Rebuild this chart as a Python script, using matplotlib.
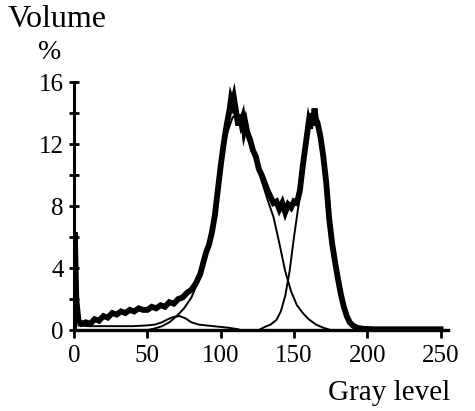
import numpy as np
from matplotlib import pyplot as plt

plt.rcParams['font.family'] = ['Liberation Serif', 'DejaVu Serif']

# total histogram (thick line)
gray_total = [0, 0.5, 1.5, 3, 5, 8, 11, 14, 17, 20, 23, 26, 29, 32, 35, 38, 41, 44, 47, 50,
              53, 56, 59, 62, 65, 68, 71, 74, 77, 80, 83, 86, 88, 90, 92, 94, 96, 98, 100,
              102, 104, 106, 107, 108, 109, 110, 111, 112, 113, 114, 115, 116, 117, 118,
              120, 122, 124, 126, 128, 130, 132, 134, 136, 138, 140, 142, 144, 146, 148,
              150, 152, 154, 156, 158, 160, 161, 162, 163, 164, 165, 166, 168, 170, 172,
              174, 176, 178, 180, 182, 184, 186, 188, 190, 193, 197, 205, 220, 240, 250]
vol_total = [0, 6.3, 2.0, 0.6, 0.4, 0.5, 0.4, 0.7, 0.6, 0.9, 0.8, 1.1, 1.0, 1.2, 1.1, 1.3, 1.2,
             1.4, 1.3, 1.3, 1.5, 1.4, 1.6, 1.5, 1.8, 1.7, 2.0, 2.1, 2.4, 2.6, 3.0, 3.6, 4.3,
             5.0, 5.5, 6.3, 7.4, 9.0, 10.6, 12.0, 13.2, 14.2, 14.9, 14.6, 15.0, 14.4, 13.8,
             13.2, 13.9, 13.4, 13.7, 12.9, 13.3, 12.8, 12.3, 11.6, 11.2, 10.4, 10.0, 9.5,
             9.0, 8.6, 8.2, 8.3, 7.8, 8.2, 7.6, 8.1, 7.9, 8.3, 8.2, 9.0, 10.6, 12.0, 13.4,
             13.0, 14.0, 13.2, 14.3, 13.6, 13.4, 12.5, 11.2, 9.5, 7.2, 5.6, 4.4, 3.3, 2.3,
             1.5, 0.9, 0.5, 0.3, 0.15, 0.08, 0.05, 0.05, 0.05, 0.05]

# low gray component (thin)
gray_low = [3, 10, 20, 30, 40, 50, 55, 60, 64, 68, 72, 76, 80, 85, 90, 95, 100, 105, 112]
vol_low = [0.3, 0.25, 0.25, 0.25, 0.25, 0.3, 0.35, 0.5, 0.7, 0.85, 0.9, 0.75, 0.5, 0.35,
           0.3, 0.25, 0.2, 0.15, 0.05]

# first main component (thin)
gray_c1 = [50, 55, 60, 65, 70, 75, 80, 85, 90, 95, 100, 104, 108, 110, 112, 116, 120, 124,
           128, 132, 136, 140, 144, 148, 152, 156, 160, 165, 170, 175]
vol_c1 = [0.0, 0.1, 0.25, 0.5, 0.9, 1.4, 2.1, 3.2, 4.8, 6.8, 10.2, 12.6, 13.7, 13.9, 13.6,
          12.9, 12.0, 10.9, 9.6, 8.4, 7.3, 5.6, 3.8, 2.5, 1.6, 1.1, 0.7, 0.35, 0.15, 0.0]

# second main component (thin)
gray_c2 = [126, 130, 134, 138, 141, 144, 147, 150, 153, 156, 159, 162, 164, 166, 168, 170,
           173, 176, 179, 182, 185, 188, 192]
vol_c2 = [0.0, 0.2, 0.35, 0.65, 1.2, 2.2, 3.8, 6.0, 8.0, 10.4, 12.5, 13.6, 13.9, 13.2, 12.0,
          10.6, 7.8, 5.5, 3.7, 2.2, 1.1, 0.4, 0.0]

fig = plt.figure(figsize=(4.75, 4.11), dpi=100)
ax = fig.add_axes([0.156, 0.197, 0.787, 0.603])

ax.plot(gray_low, vol_low, color='black', lw=1.4)
ax.plot(gray_c1, vol_c1, color='black', lw=1.4)
ax.plot(gray_c2, vol_c2, color='black', lw=1.4)
ax.plot(gray_total, vol_total, color='black', lw=4.2, solid_joinstyle='miter')

ax.set_xlim(0, 255)
ax.set_ylim(0, 16)
ax.spines['top'].set_visible(False)
ax.spines['right'].set_visible(False)
ax.spines['left'].set_linewidth(2.2)
ax.spines['bottom'].set_linewidth(2.4)

ax.set_xticks([0, 50, 100, 150, 200, 250])
ax.set_yticks([0, 4, 8, 12, 16])
ax.set_yticks([2, 6, 10, 14], minor=True)
ax.tick_params(axis='y', which='both', direction='inout', length=7, width=2, labelsize=18, pad=4)
ax.tick_params(axis='x', which='major', direction='out', length=6, width=2, labelsize=18, pad=5)

fig.text(0.017, 0.934, 'Volume', fontsize=23, va='baseline', ha='left')
fig.text(0.105, 0.856, '%', fontsize=20, va='baseline', ha='center')
fig.text(0.948, 0.027, 'Gray level', fontsize=21, va='baseline', ha='right')

fig.savefig('out.png', dpi=100)
